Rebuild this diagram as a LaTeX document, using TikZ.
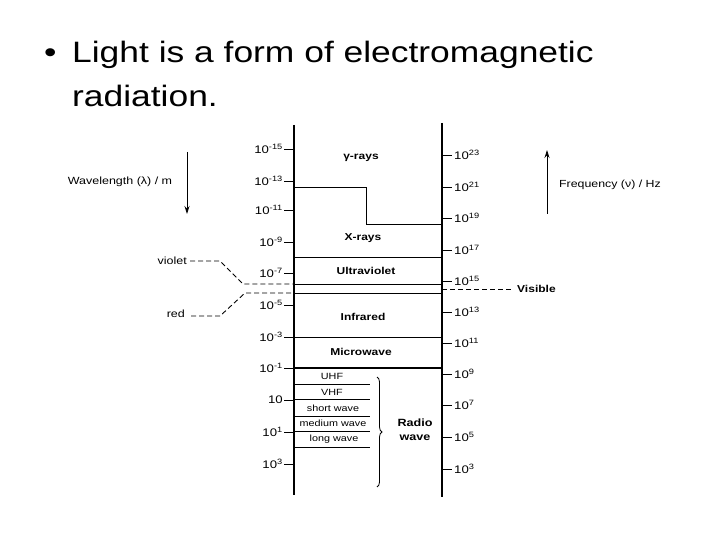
\documentclass[tikz,border=0pt]{standalone}
\usepackage{fontspec}
\setmainfont{Liberation Sans}[FakeStretch=1.2]
\usetikzlibrary{decorations.pathreplacing,arrows.meta}
\begin{document}
\begin{tikzpicture}[x=1pt,y=-1pt,
  axis/.style={line width=1.3pt},
  band/.style={line width=0.9pt},
  axtick/.style={line width=0.9pt},
  vdash/.style={dashed,dash pattern=on 5pt off 3pt,line width=0.9pt},
  ticklbl/.style={font=\fontsize{11}{13}\selectfont,inner sep=0pt},
  bandlbl/.style={font=\fontsize{10}{12}\selectfont\bfseries,inner sep=0pt},
  sublbl/.style={font=\fontsize{9}{11}\selectfont,inner sep=0pt},
  plainlbl/.style={font=\fontsize{10.4}{12}\selectfont,inner sep=0pt},
  arr/.style={line width=0.8pt,-{Stealth[length=8pt,width=5pt]}}]
\useasboundingbox (0,0) rectangle (720,540);
% title
\node[anchor=base west,inner sep=0pt,font=\fontsize{29.5}{32}\selectfont] (bul) at (44,63) {•};
\node[anchor=base west,inner sep=0pt,font=\fontsize{29.5}{32}\selectfont] (t1) at (72,63) {Light is a form of electromagnetic};
\node[anchor=base west,inner sep=0pt,font=\fontsize{29.5}{32}\selectfont] (t2) at (72,107) {radiation.};
% axes
\coordinate (la1) at (294,125); \coordinate (la2) at (294,495);
\coordinate (ra1) at (442,123); \coordinate (ra2) at (442,497);
\draw[axis] (la1) -- (la2);
\draw[axis] (ra1) -- (ra2);
% left ticks
\foreach \y/\t in {149/10\textsuperscript{-15},181/10\textsuperscript{-13},210/10\textsuperscript{-11},242/10\textsuperscript{-9},273/10\textsuperscript{-7},305/10\textsuperscript{-5},337/10\textsuperscript{-3},368/10\textsuperscript{-1},400/10,432/10\textsuperscript{1},464/10\textsuperscript{3}}{
  \draw[axtick] (284,\y) -- (294,\y);
  \node[ticklbl,anchor=east] at (283,\y) {\t};
}
% right ticks
\foreach \y/\t in {155/23,187/21,218/19,250/17,281/15,312/13,343/11,374/9,405/7,437/5,469/3}{
  \draw[axtick] (442,\y) -- (452,\y);
  \node[ticklbl,anchor=west] at (454,\y) {10\textsuperscript{\t}};
}
% gamma / x-ray boundary
\draw[band] (294,187) -- (366,187) -- (366,224) -- (442,224);
% band lines
\foreach \y in {257,284,293,337}{\draw[band] (294,\y) -- (442,\y);}
\draw[line width=1.3pt] (294,368) -- (442,368);
\foreach \y in {384,399,416,431,447}{\draw[band] (294,\y) -- (370,\y);}
% band labels
\node[bandlbl] (g) at (361,158) {γ-rays};
\node[bandlbl] (xr) at (363,238) {X-rays};
\node[bandlbl] (uv) at (366,271) {Ultraviolet};
\node[bandlbl] (ir) at (363,317) {Infrared};
\node[bandlbl] (mw) at (361,352) {Microwave};
\node[sublbl] (uhf) at (332,376) {UHF};
\node[sublbl] (vhf) at (332,392) {VHF};
\node[sublbl] (sw) at (333,408) {short wave};
\node[sublbl] (mdw) at (333,423) {medium wave};
\node[sublbl] (lw) at (334,439) {long wave};
% brace
\coordinate (b1) at (377,377); \coordinate (b2) at (377,487);
\draw[line width=0.8pt,decorate,decoration={brace,amplitude=5pt}] (b1) -- (b2);
\node[bandlbl,font=\fontsize{10.5}{14}\selectfont\bfseries,align=center] (radio) at (415,430) {Radio\\wave};
% violet / red
\node[plainlbl,anchor=east] (vi) at (187,261) {violet};
\node[plainlbl,anchor=east] (rd) at (185,314) {red};
\coordinate (v0) at (190,261); \coordinate (v1) at (220,261); \coordinate (v2) at (243,284);
\coordinate (r0) at (191,316); \coordinate (r1) at (220,316); \coordinate (r2) at (245,293);
\draw[vdash] (v0) -- (v1) -- (v2) -- (294,284);
\draw[vdash] (r0) -- (r1) -- (r2) -- (294,293);
% visible
\node[bandlbl,anchor=west] (vis) at (517,289) {Visible};
\coordinate (vs) at (512,289);
\draw[vdash] (442,289) -- (vs);
% arrows and axis titles
\node[plainlbl] (wl) at (120,182) {Wavelength (λ) / m};
\coordinate (wa1) at (187,152); \coordinate (wa2) at (187,214);
\draw[arr] (wa1) -- (wa2);
\node[plainlbl,font=\fontsize{10.3}{12}\selectfont] (fq) at (610,185) {Frequency (ν) / Hz};
\coordinate (fa1) at (547,214); \coordinate (fa2) at (547,150);
\draw[arr] (fa1) -- (fa2);
\end{tikzpicture}
\end{document}
